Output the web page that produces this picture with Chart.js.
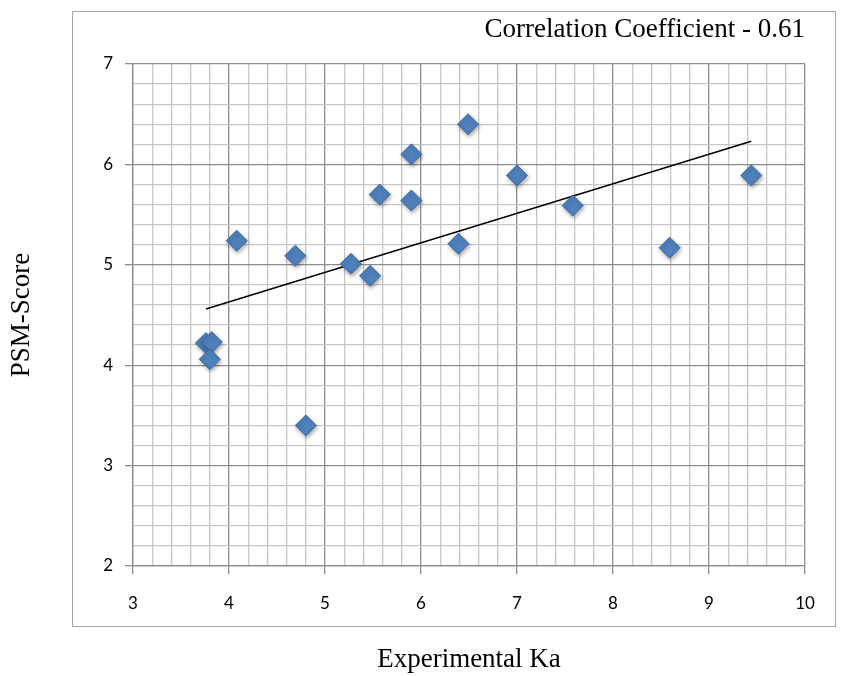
<!DOCTYPE html>
<html>
<head>
<meta charset="utf-8">
<script src="https://cdn.jsdelivr.net/npm/chart.js@4.4.0/dist/chart.umd.min.js"></script>
<style>
  html, body { margin: 0; padding: 0; background: #fff; }
  canvas { display: block; }
</style>
</head>
<body>
<canvas id="chart" width="845" height="676"></canvas>
<script>
// measured points (Experimental Ka, PSM-Score)
const kaValues = [3.76, 3.82, 3.80, 4.80, 4.08, 4.69, 5.27, 5.47, 5.57, 5.90, 5.90, 6.39, 6.49, 7.00, 7.58, 8.59, 9.44];
const psmScores = [4.22, 4.23, 4.06, 3.40, 5.24, 5.09, 5.01, 4.89, 5.70, 6.10, 5.64, 5.21, 6.40, 5.89, 5.59, 5.17, 5.89];

// trend line end points
const trendKa = [3.76, 9.44];
const trendScore = [4.56, 6.23];

const xTicks = [3, 4, 5, 6, 7, 8, 9, 10];
const yTicks = [2, 3, 4, 5, 6, 7];

const titleText = 'Correlation Coefficient - 0.61';

const isMajor = v => Math.abs(v - Math.round(v)) < 1e-6;

const frameBox = {
  id: 'frameBox',
  afterDraw(chart) {
    const ctx = chart.ctx;
    ctx.save();
    ctx.strokeStyle = '#a6a6a6';
    ctx.lineWidth = 1;
    ctx.strokeRect(72.5, 11.5, 763, 615);
    ctx.fillStyle = '#000';
    ctx.font = '27px "Liberation Serif"';
    ctx.textAlign = 'right';
    ctx.textBaseline = 'middle';
    ctx.fillText(titleText, chart.chartArea.right, 30);
    ctx.restore();
  }
};

const markerShadow = {
  id: 'markerShadow',
  beforeDatasetDraw(chart, args) {
    if (args.index !== 1) return;
    const ctx = chart.ctx;
    ctx.save();
    ctx.shadowColor = 'rgba(0,0,0,0.35)';
    ctx.shadowBlur = 4;
    ctx.shadowOffsetX = 1;
    ctx.shadowOffsetY = 2;
  },
  afterDatasetDraw(chart, args) {
    if (args.index !== 1) return;
    chart.ctx.restore();
  }
};

new Chart(document.getElementById('chart'), {
  type: 'scatter',
  data: {
    datasets: [
      {
        type: 'line',
        data: trendKa.map((x, i) => ({ x: x, y: trendScore[i] })),
        borderColor: '#000',
        borderWidth: 1.5,
        pointRadius: 0,
        fill: false,
        order: 2
      },
      {
        data: kaValues.map((x, i) => ({ x: x, y: psmScores[i] })),
        pointStyle: 'rectRot',
        pointRadius: 10.5,
        backgroundColor: '#4f81bd',
        borderColor: '#3f6a9c',
        borderWidth: 1,
        order: 1
      }
    ]
  },
  options: {
    responsive: false,
    animation: false,
    layout: { padding: { left: 0, top: 64, right: 40, bottom: 0 } },
    plugins: {
      legend: { display: false },
      tooltip: { enabled: false }
    },
    scales: {
      x: {
        type: 'linear',
        min: xTicks[0],
        max: xTicks[xTicks.length - 1],
        afterFit(scale) { scale.height = 110; },
        ticks: {
          stepSize: 0.2,
          autoSkip: false,
          maxRotation: 0,
          padding: 19,
          color: '#000',
          font: { family: 'Lato', size: 17 },
          callback: v => (isMajor(v) ? String(Math.round(v)) : '')
        },
        grid: {
          color: c => (isMajor(c.tick.value) ? '#8c8c8c' : '#c6c6c6'),
          tickColor: c => (isMajor(c.tick.value) ? '#8c8c8c' : 'rgba(0,0,0,0)'),
          lineWidth: 1.3,
          tickLength: 8
        },
        border: { color: '#8c8c8c', width: 1.3 },
        title: {
          display: true,
          text: 'Experimental Ka',
          color: '#000',
          font: { family: 'Liberation Serif', size: 27 },
          padding: { top: 0, bottom: 0 }
        }
      },
      y: {
        type: 'linear',
        min: yTicks[0],
        max: yTicks[yTicks.length - 1],
        afterFit(scale) { scale.width = 133; },
        ticks: {
          stepSize: 0.2,
          autoSkip: false,
          padding: 12,
          color: '#000',
          font: { family: 'Lato', size: 17 },
          callback: v => (isMajor(v) ? String(Math.round(v)) : '')
        },
        grid: {
          color: c => (isMajor(c.tick.value) ? '#8c8c8c' : '#c6c6c6'),
          tickColor: c => (isMajor(c.tick.value) ? '#8c8c8c' : 'rgba(0,0,0,0)'),
          lineWidth: 1.3,
          tickLength: 8
        },
        border: { color: '#8c8c8c', width: 1.3 },
        title: {
          display: true,
          text: 'PSM-Score',
          color: '#000',
          font: { family: 'Liberation Serif', size: 27 },
          padding: { top: 6, bottom: 0 }
        }
      }
    }
  },
  plugins: [frameBox, markerShadow]
});
</script>
</body>
</html>
